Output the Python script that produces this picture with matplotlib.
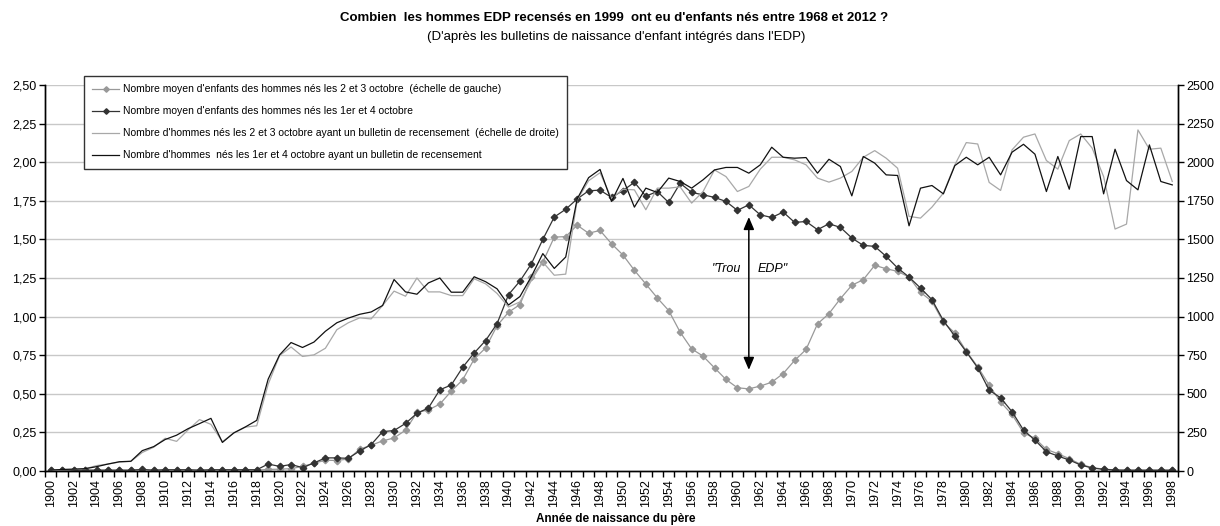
import matplotlib
matplotlib.use("Agg")
import matplotlib.pyplot as plt
from matplotlib.ticker import FixedLocator, FixedFormatter, NullFormatter

plt.rcParams['font.family'] = ['Liberation Sans', 'DejaVu Sans']

# ---------------- data ----------------
years = list(range(1900, 1999))

moy_2_3 = [0.005, 0.005, 0.005, 0.005, 0.005, 0.005, 0.005, 0.005, 0.006, 0.005,
           0.006, 0.006, 0.006, 0.005, 0.006, 0.006, 0.006, 0.006, 0.006, 0.010,
           0.012, 0.015, 0.030, 0.050, 0.070, 0.068, 0.078, 0.141, 0.167, 0.195,
           0.214, 0.264, 0.379, 0.396, 0.433, 0.517, 0.591, 0.725, 0.797, 0.941,
           1.028, 1.078, 1.255, 1.353, 1.515, 1.518, 1.592, 1.540, 1.558, 1.472,
           1.399, 1.300, 1.211, 1.121, 1.039, 0.899, 0.791, 0.744, 0.668, 0.593,
           0.539, 0.532, 0.550, 0.575, 0.631, 0.716, 0.787, 0.953, 1.019, 1.116,
           1.203, 1.239, 1.332, 1.310, 1.293, 1.256, 1.157, 1.099, 0.963, 0.894,
           0.776, 0.675, 0.556, 0.446, 0.366, 0.248, 0.211, 0.140, 0.112, 0.080,
           0.043, 0.022, 0.012, 0.007, 0.005, 0.005, 0.005, 0.005, 0.005]

moy_1_4 = [0.005, 0.005, 0.005, 0.005, 0.005, 0.005, 0.005, 0.005, 0.010, 0.005,
           0.008, 0.008, 0.008, 0.005, 0.008, 0.008, 0.008, 0.008, 0.008, 0.045,
           0.030, 0.042, 0.022, 0.052, 0.085, 0.085, 0.082, 0.130, 0.171, 0.255,
           0.262, 0.308, 0.374, 0.408, 0.526, 0.557, 0.672, 0.764, 0.845, 0.954,
           1.142, 1.230, 1.342, 1.500, 1.645, 1.695, 1.762, 1.815, 1.819, 1.772,
           1.816, 1.870, 1.780, 1.810, 1.739, 1.864, 1.804, 1.789, 1.772, 1.746,
           1.688, 1.724, 1.659, 1.642, 1.677, 1.610, 1.616, 1.563, 1.601, 1.578,
           1.509, 1.461, 1.455, 1.390, 1.315, 1.256, 1.185, 1.110, 0.974, 0.873,
           0.772, 0.668, 0.524, 0.474, 0.384, 0.265, 0.200, 0.125, 0.097, 0.071,
           0.039, 0.019, 0.011, 0.006, 0.005, 0.005, 0.005, 0.005, 0.005]

hommes_2_3 = [3, 8, 10, 14, 35, 45, 58, 62, 120, 154,
              212, 192, 266, 333, 302, 190, 246, 284, 293, 562,
              748, 803, 742, 752, 795, 915, 960, 992, 985, 1072,
              1165, 1132, 1250, 1160, 1160, 1136, 1136, 1245, 1212, 1150,
              1062, 1095, 1235, 1353, 1268, 1275, 1755, 1880, 1932, 1765,
              1825, 1821, 1692, 1832, 1832, 1840, 1735, 1810, 1950, 1907,
              1810, 1843, 1955, 2032, 2032, 2015, 1983, 1897, 1871, 1897,
              1940, 2032, 2075, 2026, 1961, 1649, 1638, 1709, 1800, 1983,
              2127, 2118, 1869, 1817, 2080, 2162, 2183, 2011, 1955, 2140,
              2183, 2091, 1907, 1567, 1599, 2209, 2084, 2091, 1875]

hommes_1_4 = [5, 10, 12, 15, 28, 45, 60, 63, 132, 158,
              204, 232, 274, 307, 341, 185, 247, 285, 328, 595,
              752, 832, 800, 835, 905, 960, 990, 1015, 1030, 1072,
              1240, 1160, 1145, 1218, 1250, 1158, 1158, 1258, 1226, 1180,
              1075, 1130, 1260, 1408, 1312, 1386, 1762, 1900, 1953, 1746,
              1895, 1709, 1832, 1804, 1897, 1875, 1832, 1886, 1950, 1966,
              1966, 1929, 1983, 2097, 2032, 2026, 2030, 1929, 2019, 1972,
              1782, 2037, 1994, 1918, 1914, 1588, 1832, 1849, 1795, 1978,
              2032, 1983, 2032, 1918, 2065, 2116, 2052, 1810, 2037, 1825,
              2166, 2166, 1795, 2084, 1881, 1821, 2112, 1875, 1853]

left_ticks = [0, 0.25, 0.5, 0.75, 1.0, 1.25, 1.5, 1.75, 2.0, 2.25, 2.5]
left_labels = ["0,00", "0,25", "0,50", "0,75", "1,00", "1,25", "1,50", "1,75", "2,00", "2,25", "2,50"]
right_ticks = [0, 250, 500, 750, 1000, 1250, 1500, 1750, 2000, 2250, 2500]
right_labels = ["0", "250", "500", "750", "1000", "1250", "1500", "1750", "2000", "2250", "2500"]
label_years = years[::2]

labels = [
    "Nombre moyen d'enfants des hommes nés les 2 et 3 octobre  (échelle de gauche)",
    "Nombre moyen d'enfants des hommes nés les 1er et 4 octobre",
    "Nombre d'hommes nés les 2 et 3 octobre ayant un bulletin de recensement  (échelle de droite)",
    "Nombre d'hommes  nés les 1er et 4 octobre ayant un bulletin de recensement",
]
title = "Combien  les hommes EDP recensés en 1999  ont eu d'enfants nés entre 1968 et 2012 ?"
subtitle = "(D'après les bulletins de naissance d'enfant intégrés dans l'EDP)"
xlabel = "Année de naissance du père"

# ---------------- figure ----------------
W, H = 1220, 526
fig = plt.figure(figsize=(W / 100, H / 100), dpi=100)
ax = fig.add_axes([45 / W, 1 - 471 / H, (1178 - 45) / W, (471 - 85) / H])
ax2 = ax.twinx()

c_gray_m = '#999999'
c_dark_m = '#333333'
c_gray_l = '#a8a8a8'
c_dark_l = '#111111'

l1, = ax.plot(years, moy_2_3, color=c_gray_m, lw=0.9, marker='D', ms=3.3,
              mfc=c_gray_m, mec=c_gray_m, zorder=3)
l2, = ax.plot(years, moy_1_4, color=c_dark_m, lw=0.9, marker='D', ms=3.3,
              mfc=c_dark_m, mec=c_dark_m, zorder=4)
l3, = ax2.plot(years, hommes_2_3, color=c_gray_l, lw=0.9, zorder=3)
l4, = ax2.plot(years, hommes_1_4, color=c_dark_l, lw=0.9, zorder=4)

ax.set_xlim(1899.5, 1998.5)
ax.set_ylim(0, 2.5)
ax2.set_ylim(0, 2500)

# gridlines
for t in left_ticks[1:]:
    ax.axhline(t, color='#c8c8c8', lw=1.0, zorder=0)

# spines
for a in (ax, ax2):
    a.spines['top'].set_visible(False)
    for s in ('left', 'right', 'bottom'):
        a.spines[s].set_color('black')
        a.spines[s].set_linewidth(1.0)

ax.yaxis.set_major_locator(FixedLocator(left_ticks))
ax.yaxis.set_major_formatter(FixedFormatter(left_labels))
ax2.yaxis.set_major_locator(FixedLocator(right_ticks))
ax2.yaxis.set_major_formatter(FixedFormatter(right_labels))
ax.tick_params(axis='y', direction='out', length=4, width=1, labelsize=9,
               pad=2, colors='black')
ax2.tick_params(axis='y', direction='out', length=4, width=1, labelsize=9,
                pad=2, colors='black')

ax.xaxis.set_major_locator(FixedLocator(label_years))
ax.xaxis.set_major_formatter(FixedFormatter([str(y) for y in label_years]))
ax.xaxis.set_minor_locator(FixedLocator([y - 0.5 for y in years] + [years[-1] + 0.5]))
ax.xaxis.set_minor_formatter(NullFormatter())
ax.tick_params(axis='x', which='major', length=0, labelsize=9, pad=6,
               labelrotation=90)
ax.tick_params(axis='x', which='minor', direction='out', length=4, width=1)

# annotation arrow
ax.annotate('', xy=(1961, 0.655), xytext=(1961, 1.645),
            arrowprops=dict(arrowstyle='<|-|>,head_length=0.75,head_width=0.32',
                            color='black', lw=1.1, shrinkA=0, shrinkB=0),
            zorder=6)
ax.text(1960.3, 1.31, '"Trou', ha='right', va='center', fontsize=9,
        style='italic', color='black')
ax.text(1961.8, 1.31, 'EDP"', ha='left', va='center', fontsize=9,
        style='italic', color='black')

# legend
leg = ax2.legend([l1, l2, l3, l4], labels, loc='upper left',
                 bbox_to_anchor=(84 / W, 1 - 76 / H), bbox_transform=fig.transFigure,
                 fontsize=7.5, frameon=True, fancybox=False, edgecolor='#333333',
                 framealpha=1, borderaxespad=0, borderpad=0.8, labelspacing=1.15,
                 handlelength=2.6, handletextpad=0.3, markerscale=0.85)
leg.get_frame().set_linewidth(1.0)
leg.set_zorder(10)

# texts
fig.text(0.503, 1 - 18 / H, title, ha='center', va='center', fontsize=9.5,
         fontweight='bold')
fig.text(0.505, 1 - 37 / H, subtitle, ha='center', va='center', fontsize=9.5)
fig.text(0.505, 1 - 519 / H, xlabel, ha='center', va='center', fontsize=8.5,
         fontweight='bold')

fig.savefig('out.png', dpi=100)
